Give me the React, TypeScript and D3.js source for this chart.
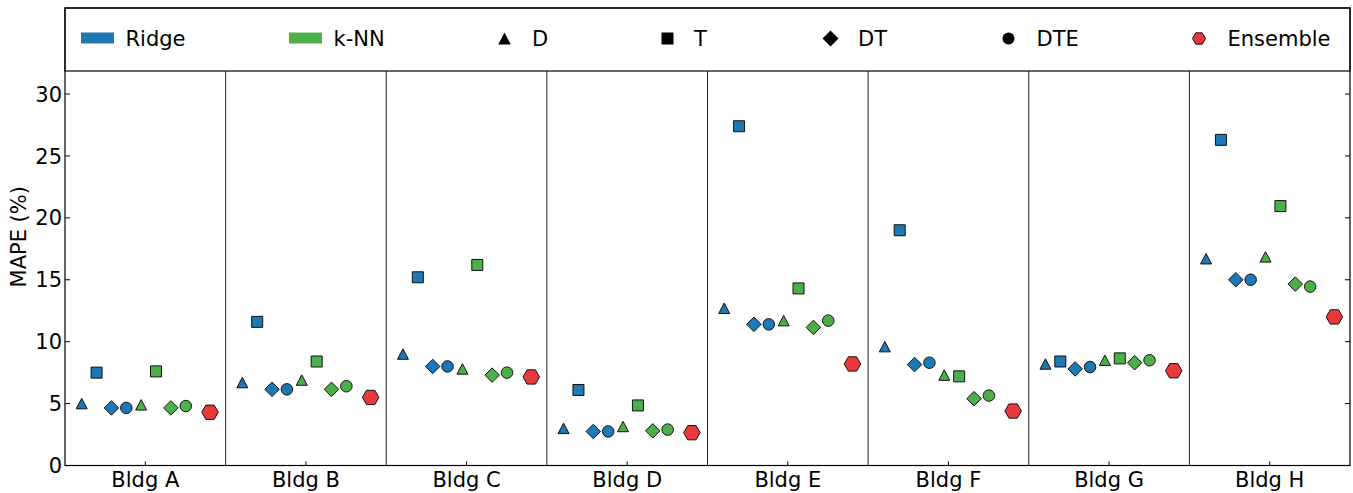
import React from 'react'
import * as d3 from 'd3'

// buildings on the x axis
const buildings = ['Bldg A', 'Bldg B', 'Bldg C', 'Bldg D', 'Bldg E', 'Bldg F', 'Bldg G', 'Bldg H']

// MAPE (%) per building
const ridgeD = [5.0, 6.7, 9.0, 3.0, 12.7, 9.6, 8.2, 16.7]
const ridgeT = [7.5, 11.6, 15.2, 6.1, 27.4, 19.0, 8.4, 26.3]
const ridgeDT = [4.65, 6.15, 8.0, 2.75, 11.4, 8.15, 7.8, 15.0]
const ridgeDTE = [4.65, 6.15, 8.0, 2.75, 11.4, 8.3, 7.95, 15.0]
const knnD = [4.9, 6.9, 7.8, 3.15, 11.7, 7.3, 8.5, 16.85]
const knnT = [7.6, 8.4, 16.2, 4.85, 14.3, 7.2, 8.65, 20.95]
const knnDT = [4.65, 6.15, 7.3, 2.8, 11.15, 5.4, 8.3, 14.65]
const knnDTE = [4.8, 6.4, 7.5, 2.9, 11.7, 5.65, 8.5, 14.45]
const ensemble = [4.3, 5.5, 7.15, 2.65, 8.2, 4.4, 7.65, 12.0]

const yTicks = [0, 5, 10, 15, 20, 25, 30]

const BLUE = '#1f77b4'
const GREEN = '#4daf4a'
const RED = '#e8393c'
const FONT = 'DejaVu Sans, sans-serif'

type Shape = 'tri' | 'sq' | 'dia' | 'circ' | 'hex'

// slot = position inside a building's band
const series: { shape: Shape; color: string; slot: number; values: number[] }[] = [
  { shape: 'tri', color: BLUE, slot: 0, values: ridgeD },
  { shape: 'sq', color: BLUE, slot: 1, values: ridgeT },
  { shape: 'dia', color: BLUE, slot: 2, values: ridgeDT },
  { shape: 'circ', color: BLUE, slot: 3, values: ridgeDTE },
  { shape: 'tri', color: GREEN, slot: 4, values: knnD },
  { shape: 'sq', color: GREEN, slot: 5, values: knnT },
  { shape: 'dia', color: GREEN, slot: 6, values: knnDT },
  { shape: 'circ', color: GREEN, slot: 7, values: knnDTE },
  { shape: 'hex', color: RED, slot: 8.63, values: ensemble },
]

// marker outlines, sized in px
function markerPath(shape: Shape, s: number) {
  const h = s / 2
  if (shape === 'tri') return `M0,${-h * 0.95}L${h},${h * 0.95}L${-h},${h * 0.95}Z`
  if (shape === 'sq') return `M${-h},${-h}H${h}V${h}H${-h}Z`
  if (shape === 'dia') return `M0,${-h}L${h},0L0,${h}L${-h},0Z`
  if (shape === 'circ') return d3.arc()({ innerRadius: 0, outerRadius: h, startAngle: 0, endAngle: 2 * Math.PI }) as string
  const pts = d3.range(6).map(i => {
    const a = (i * Math.PI) / 3
    return [h * Math.cos(a), h * Math.sin(a)] as [number, number]
  })
  return d3.line()(pts) + 'Z'
}

const plotSize: Record<Shape, number> = { tri: 11, sq: 11, dia: 14.5, circ: 11.5, hex: 16.5 }
const legendSize: Record<Shape, number> = { tri: 12.5, sq: 12, dia: 16, circ: 12, hex: 13 }

export default function App() {
  const width = 1353
  const height = 493
  const left = 65
  const right = 1350
  const top = 8
  const bottom = 465.5
  const legendBottom = 71

  const x = d3.scaleBand().domain(buildings).range([left, right]).padding(0)
  const slotX = d3.scaleLinear().domain([0, 8.63]).range([16.7, 145])
  const y = d3.scaleLinear().domain([0, 36.95]).range([bottom, top])

  const legend = [
    { kind: 'patch', color: BLUE, label: 'Ridge', mx: 97.5, tx: 125.5 },
    { kind: 'patch', color: GREEN, label: 'k-NN', mx: 305.5, tx: 333.5 },
    { kind: 'tri', color: '#000', label: 'D', mx: 504.5, tx: 532 },
    { kind: 'sq', color: '#000', label: 'T', mx: 667.5, tx: 694 },
    { kind: 'dia', color: '#000', label: 'DT', mx: 830.5, tx: 858 },
    { kind: 'circ', color: '#000', label: 'DTE', mx: 1008.5, tx: 1036.5 },
    { kind: 'hex', color: RED, label: 'Ensemble', mx: 1199, tx: 1227.5 },
  ]

  return (
    <svg width={width} height={height} style={{ position: 'absolute', left: 0, top: 0, background: '#fff' }} fontFamily={FONT}>
      <rect x={0} y={0} width={width} height={height} fill="#fff" />

      {/* building separators */}
      {buildings.slice(1).map(b => (
        <line key={b} x1={x(b)} x2={x(b)} y1={legendBottom} y2={bottom} stroke="#222" strokeWidth={1} />
      ))}

      {/* y ticks, left and mirrored right, pointing inward */}
      {yTicks.map(t => (
        <g key={t}>
          <line x1={left} x2={left + 5} y1={y(t)} y2={y(t)} stroke="#000" />
          <line x1={right - 5} x2={right} y1={y(t)} y2={y(t)} stroke="#000" />
          <text x={left - 3} y={y(t)} dy="0.36em" textAnchor="end" fontSize={21} fill="#000">{t}</text>
        </g>
      ))}

      {/* x ticks at building centres */}
      {buildings.map(b => {
        const cx = (x(b) as number) + x.bandwidth() / 2
        return (
          <g key={b}>
            <line x1={cx} x2={cx} y1={bottom} y2={bottom - 4} stroke="#000" />
            <text x={cx} y={486.5} textAnchor="middle" fontSize={21} fill="#000">{b}</text>
          </g>
        )
      })}

      <text transform={`translate(26,${(top + bottom) / 2}) rotate(-90)`} textAnchor="middle" fontSize={21} fill="#000">MAPE (%)</text>

      {/* markers */}
      {series.map((s, si) => (
        <g key={si}>
          {s.values.map((v, i) => (
            <path
              key={i}
              d={markerPath(s.shape, plotSize[s.shape])}
              transform={`translate(${(x(buildings[i]) as number) + slotX(s.slot)},${y(v)})`}
              fill={s.color}
              stroke="#111"
              strokeWidth={1}
            />
          ))}
        </g>
      ))}

      {/* legend box along the top of the axes */}
      <rect x={left} y={top} width={right - left} height={legendBottom - top} fill="#fff" stroke="#000" strokeWidth={1.2} />
      {legend.map(l => (
        <g key={l.label}>
          {l.kind === 'patch' ? (
            <rect x={l.mx - 16.5} y={32.5} width={33} height={11} fill={l.color} />
          ) : (
            <path
              d={markerPath(l.kind as Shape, legendSize[l.kind as Shape])}
              transform={`translate(${l.mx},38.5)`}
              fill={l.color}
              stroke={l.kind === 'hex' ? '#111' : 'none'}
              strokeWidth={1}
            />
          )}
          <text x={l.tx} y={38} dy="0.36em" fontSize={21} fill="#000">{l.label}</text>
        </g>
      ))}

      {/* axes frame */}
      <rect x={left} y={top} width={right - left} height={bottom - top} fill="none" stroke="#000" strokeWidth={1.2} />
    </svg>
  )
}
